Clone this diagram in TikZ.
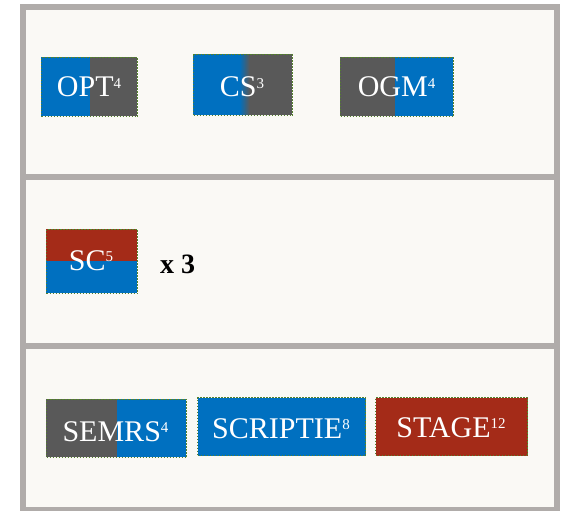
\documentclass[tikz,border=0pt]{standalone}
\usepackage{fontspec}
\setmainfont{Liberation Serif}
\definecolor{cblue}{RGB}{0,112,192}
\definecolor{cgray}{RGB}{89,89,89}
\definecolor{cred}{RGB}{164,43,24}
\definecolor{frame}{RGB}{176,172,170}
\definecolor{paper}{RGB}{250,249,245}
\definecolor{dotgreen}{RGB}{84,130,44}
\newcommand\sups[1]{\raisebox{8.5pt}{\fontsize{15}{15}\selectfont #1}}
\tikzset{
  panel/.style={draw=frame, line width=6pt, fill=paper},
  chip/.style={draw=dotgreen, line width=1.4pt, dash pattern=on 1.5pt off 1.5pt, inner sep=0pt, anchor=north west},
  lbl/.style={text=white, font=\fontsize{30}{30}\selectfont, inner sep=0pt, anchor=base},
}
\begin{document}
\begin{tikzpicture}[x=1pt,y=-1pt]
\useasboundingbox (0,0) rectangle (571,511);
% panels
\draw[panel] (23,7) rectangle (557,177);
\draw[panel] (23,177) rectangle (557,346);
\draw[panel] (23,346) rectangle (557,510);
% OPT
\fill[cblue] (41,57) rectangle (90,116);
\fill[cgray] (90,57) rectangle (137,116);
\node[chip, minimum width=96pt, minimum height=59pt] (opt) at (41,57) {};
\node[lbl] (optt) at (89,97) {OPT\sups{4}};
% CS
\fill[cblue] (193,54) rectangle (240,115);
\foreach \i in {0,...,9} {
  \pgfmathsetmacro\pc{100-10*\i-5}
  \fill[cblue!\pc!cgray] (240+\i,54) rectangle (241.2+\i,115);
}
\fill[cgray] (250,54) rectangle (292,115);
\node[chip, minimum width=99pt, minimum height=61pt] (cs) at (193,54) {};
\node[lbl] (cst) at (242,97) {CS\sups{3}};
% OGM
\fill[cgray] (340,57) rectangle (395,116);
\fill[cblue] (395,57) rectangle (453,116);
\node[chip, minimum width=113pt, minimum height=59pt] (ogm) at (340,57) {};
\node[lbl] (ogmt) at (396.5,97) {OGM\sups{4}};
% SC
\fill[cred] (46,229) rectangle (137,261);
\fill[cblue] (46,261) rectangle (137,293);
\node[chip, minimum width=91pt, minimum height=64pt] (sc) at (46,229) {};
\node[lbl] (sct) at (91,270) {SC\sups{5}};
\node[font=\fontsize{28}{28}\selectfont\bfseries, inner sep=0pt, anchor=base] (times) at (177.5,273) {x 3};
% SEMRS
\fill[cgray] (46,399) rectangle (117,457);
\fill[cblue] (117,399) rectangle (186,457);
\node[chip, minimum width=140pt, minimum height=58pt] (semrs) at (46,399) {};
\node[lbl] (semrst) at (115.5,441) {SEMRS\sups{4}};
% SCRIPTIE
\node[chip, fill=cblue, minimum width=168pt, minimum height=58pt] (scriptie) at (197,397) {};
\node[lbl] (scriptiet) at (281,438) {SCRIPTIE\sups{8}};
% STAGE
\node[chip, fill=cred, minimum width=152pt, minimum height=58pt] (stage) at (375,397) {};
\node[lbl] (staget) at (451,437) {STAGE\sups{12}};
\end{tikzpicture}
\end{document}
